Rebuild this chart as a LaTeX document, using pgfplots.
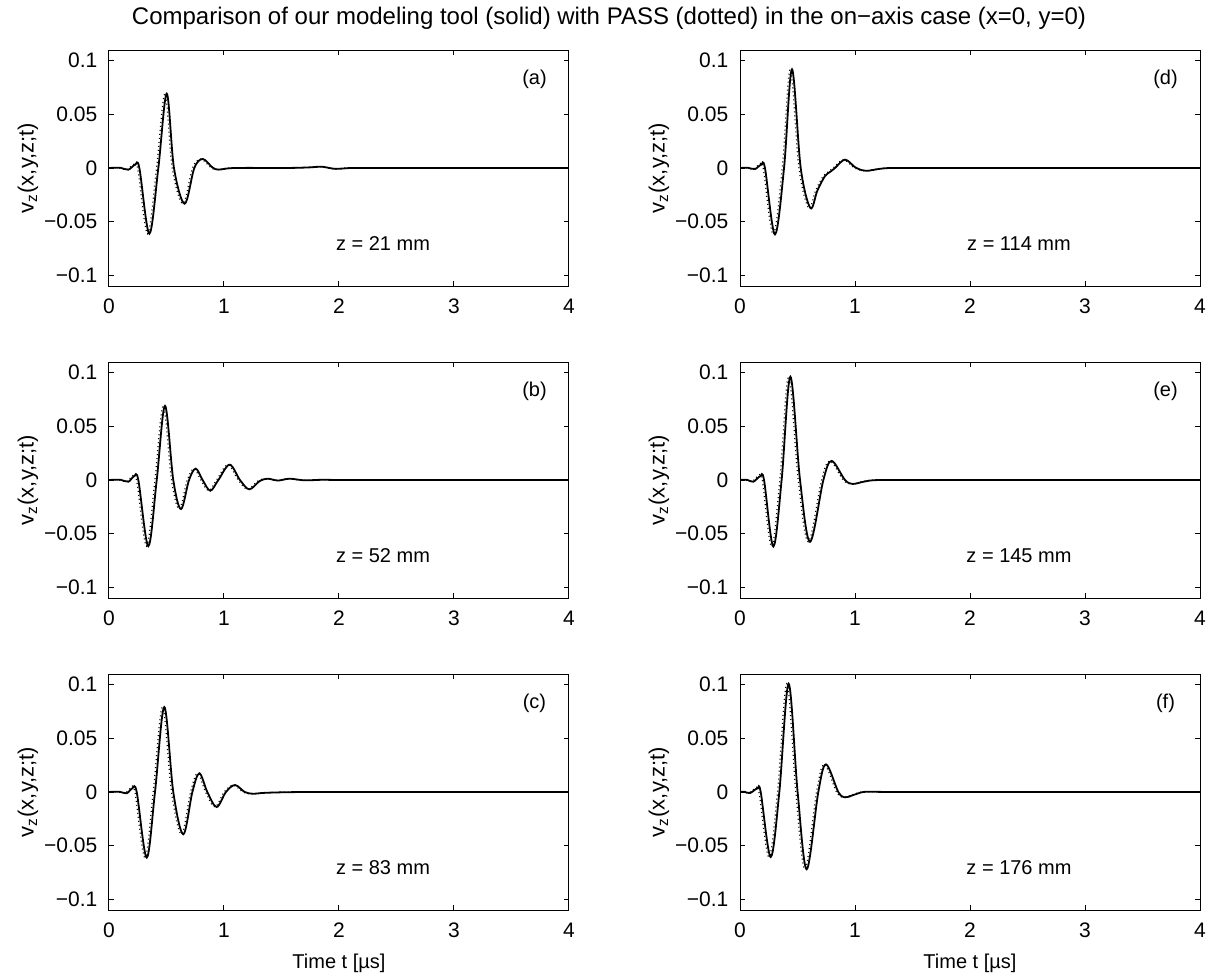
\documentclass[border=0pt]{standalone}
\usepackage{fontspec}
\setmainfont{Liberation Sans}
\usepackage{pgfplots}
\pgfplotsset{compat=1.18}
\usepackage{pgfplotstable}

\pgfplotstableread{
t v
0 0
0.10 0.0002
0.168 -0.0016
0.226 0.003
0.264 0
0.351 -0.0613
0.429 0
0.502 0.0693
0.565 0
0.658 -0.0333
0.742 0
0.815 0.0084
0.90 0.0005
0.951 -0.0015
1.05 -0.0002
1.20 0.0001
1.40 0
1.60 0.0001
1.75 0.0006
1.85 0.0012
1.97 -0.0008
2.10 0
2.30 0
2.60 0
3.00 0
3.50 0
4 0
}\dataA

\pgfplotstableread{
t v
0 0
0.10 0.0002
0.168 -0.0016
0.217 0.0034
0.255 0
0.342 -0.0617
0.415 0
0.487 0.0692
0.559 0
0.626 -0.0271
0.696 0
0.754 0.0106
0.814 0
0.881 -0.0100
0.951 0
1.049 0.0143
1.139 0
1.220 -0.0087
1.31 -0.001
1.38 0.0012
1.47 -0.0005
1.57 0.0012
1.70 -0.0003
1.85 0.0002
2.0 0
2.3 0
2.6 0
3.0 0
3.5 0
4 0
}\dataB

\pgfplotstableread{
t v
0 0
0.09 0.0003
0.154 -0.0012
0.203 0.0034
0.241 0
0.328 -0.0612
0.400 0
0.481 0.0792
0.559 0
0.646 -0.0394
0.725 0
0.786 0.0174
0.855 0
0.936 -0.014
1.017 0
1.096 0.0065
1.18 0
1.25 -0.0016
1.35 -0.0008
1.50 -0.0003
1.70 0
2.0 0
2.4 0
2.8 0
3.2 0
3.6 0
4 0
}\dataC

\pgfplotstableread{
t v
0 0
0.07 0.0002
0.13 -0.001
0.183 0.003
0.217 0
0.304 -0.0619
0.383 0
0.452 0.092
0.528 0
0.612 -0.0373
0.673 -0.021
0.739 -0.0075
0.783 -0.0037
0.826 0
0.913 0.0078
1.00 0.0008
1.06 -0.0020
1.12 -0.0025
1.20 -0.0010
1.30 0
1.45 0
1.70 0
2.0 0
2.4 0
2.8 0
3.2 0
3.6 0
4 0
}\dataD

\pgfplotstableread{
t v
0 0
0.06 0.0002
0.116 -0.0016
0.174 0.0034
0.209 0
0.29 -0.062
0.362 0
0.438 0.0963
0.522 0
0.609 -0.0576
0.725 0
0.797 0.0178
0.913 0
0.98 -0.0037
1.05 -0.0022
1.13 -0.0005
1.22 0
1.35 0
1.55 0
1.80 0
2.1 0
2.5 0
3.0 0
3.5 0
4 0
}\dataE

\pgfplotstableread{
t v
0 0
0.04 0.0002
0.087 -0.001
0.151 0.0034
0.180 0
0.267 -0.0606
0.342 0
0.423 0.1009
0.501 0
0.580 -0.072
0.681 0
0.748 0.0258
0.855 0
0.913 -0.005
0.98 -0.003
1.07 0
1.15 0.0002
1.30 0
1.50 0
1.80 0
2.1 0
2.5 0
3.0 0
3.5 0
4 0
}\dataF

\newcommand\lblfont{\fontsize{10}{12}\selectfont}
\newcommand\tckfont{\fontsize{10.5}{12.5}\selectfont}
\newcommand\ylblfont{\fontsize{11}{13}\selectfont}
\newcommand\ttlfont{\fontsize{12}{14}\selectfont}

\pgfplotsset{
  panel/.style={
    scale only axis, width=230pt, height=118pt,
    xmin=0, xmax=4, ymin=-0.11, ymax=0.11,
    xtick={0,1,2,3,4},
    xticklabels={0,1,2,3,4},
    ytick={-0.1,-0.05,0,0.05,0.1},
    yticklabels={−0.1,−0.05,0,0.05,0.1},
    tick align=inside,
    major tick length=2.5pt,
    axis line style={line width=0.5pt},
    every tick/.style={black, line width=0.5pt},
    tick label style={font=\tckfont},
    yticklabel style={xshift=-2.3pt},
    xticklabel style={yshift=-3pt},
    label style={font=\lblfont},
    ylabel={v\textsubscript{z}(x,y,z;t)},
    ylabel style={font=\ylblfont, at={(axis description cs:-0.176,0.5)}, anchor=center},
    anchor=north west,
  },
  solidc/.style={black, line width=0.9pt, smooth, tension=0.55, no marks},
  dotc/.style={black, line width=0.6pt, dash pattern=on 0.5pt off 1.5pt, smooth, tension=0.55, no marks, xshift=-0.9pt},
  bottomrow/.style={xlabel={Time t [µs]}, xlabel style={at={(axis description cs:0.5,-0.2246)}, anchor=center}},
}

\begin{document}
\begin{tikzpicture}[font=\lblfont]
\useasboundingbox (0,0) rectangle (608.5pt,-489.5pt);
\node[font=\ttlfont] at (304.5pt,-9pt) {Comparison of our modeling tool (solid) with PASS (dotted) in the on−axis case (x=0, y=0)};

\begin{axis}[panel, at={(54.5pt,-25pt)}]
\addplot[solidc] table {\dataA};
\addplot[dotc] table {\dataA};
\node at (axis cs:3.70,0.0827) {(a)};
\node at (axis cs:2.383,-0.0703) {z = 21 mm};
\end{axis}

\begin{axis}[panel, at={(370pt,-25pt)}]
\addplot[solidc] table {\dataD};
\addplot[dotc] table {\dataD};
\node at (axis cs:3.70,0.0827) {(d)};
\node at (axis cs:2.426,-0.0703) {z = 114 mm};
\end{axis}

\begin{axis}[panel, at={(54.5pt,-181pt)}]
\addplot[solidc] table {\dataB};
\addplot[dotc] table {\dataB};
\node at (axis cs:3.70,0.0827) {(b)};
\node at (axis cs:2.383,-0.0703) {z = 52 mm};
\end{axis}

\begin{axis}[panel, at={(370pt,-181pt)}]
\addplot[solidc] table {\dataE};
\addplot[dotc] table {\dataE};
\node at (axis cs:3.70,0.0827) {(e)};
\node at (axis cs:2.426,-0.0703) {z = 145 mm};
\end{axis}

\begin{axis}[panel, bottomrow, at={(54.5pt,-337pt)}]
\addplot[solidc] table {\dataC};
\addplot[dotc] table {\dataC};
\node at (axis cs:3.70,0.0827) {(c)};
\node at (axis cs:2.383,-0.0703) {z = 83 mm};
\end{axis}

\begin{axis}[panel, bottomrow, at={(370pt,-337pt)}]
\addplot[solidc] table {\dataF};
\addplot[dotc] table {\dataF};
\node at (axis cs:3.70,0.0827) {(f)};
\node at (axis cs:2.426,-0.0703) {z = 176 mm};
\end{axis}
\end{tikzpicture}
\end{document}
